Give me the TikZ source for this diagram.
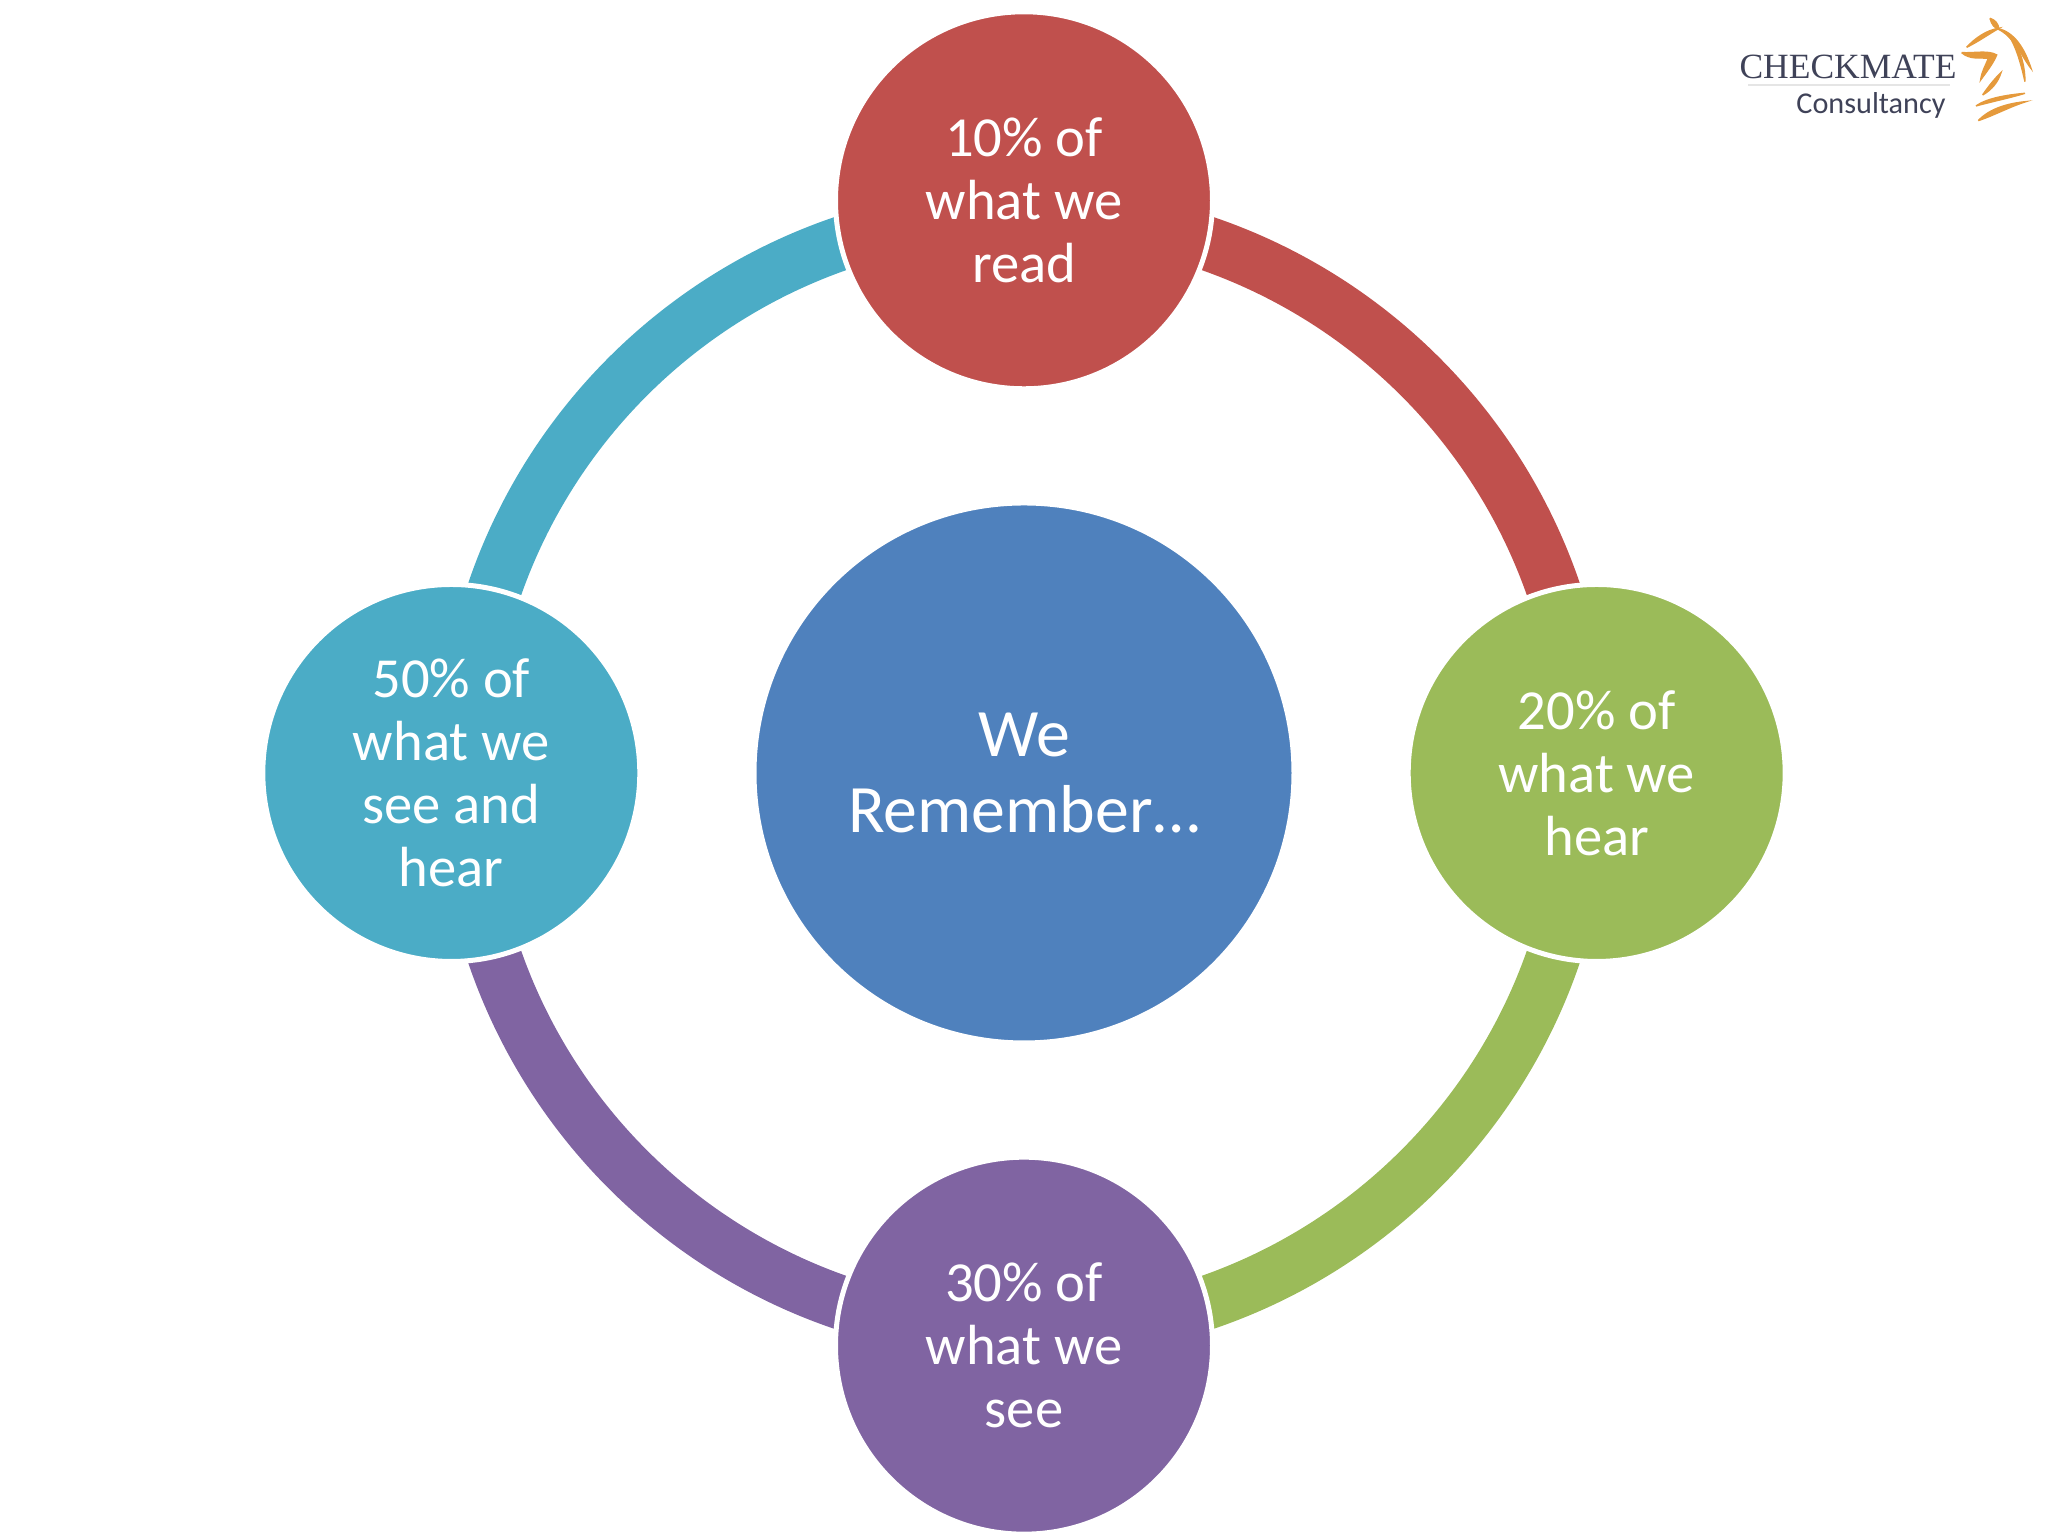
\documentclass[tikz,border=0pt]{standalone}
\usepackage{fontspec}
\setmainfont{Carlito}
\newfontfamily\logoserif{Liberation Serif}
\usepackage{xcolor}
\usetikzlibrary{positioning}
\usetikzlibrary{backgrounds}
\definecolor{readred}{HTML}{C0504D}
\definecolor{heargreen}{HTML}{9BBB59}
\definecolor{seepurple}{HTML}{8064A2}
\definecolor{bothaqua}{HTML}{4BACC6}
\definecolor{coreblue}{HTML}{4F81BD}
\definecolor{logoink}{HTML}{3F4258}
\definecolor{logohorse}{HTML}{E59A3C}
\tikzset{
	bubble/.style = {circle, draw = white, line width = 0.05cm, inner sep = 0pt, outer sep = 0pt, text = white, align = center},
	part/.style = {bubble, minimum size = 3.77cm, font = \fontsize{16.1}{17.9}\selectfont},
	core/.style = {bubble, minimum size = 5.40cm, font = \fontsize{19.3}{21.6}\selectfont},
	ringarc/.style = {line width = 0.54cm},
	horsestroke/.style = {fill = logohorse, draw = logohorse, line width = 0.4pt}
}

\begin{document}
\begin{tikzpicture}[node distance = 1.142cm]
		\useasboundingbox (0,0) rectangle (20.48,15.36);
		\node[core, fill = coreblue] (remember) at (10.24,7.63) {We\\Remember…};
		\node[part, fill = readred, above = of remember] (read) {10\% of\\what we\\read};
		\node[part, fill = heargreen, right = of remember] (hear) {20\% of\\what we\\hear};
		\node[part, fill = seepurple, below = of remember] (see) {30\% of\\what we\\see};
		\node[part, fill = bothaqua, left = of remember] (both) {50\% of\\what we\\see and\\hear};
		\coordinate (readring) at ([yshift = -0.127cm]read.center);
		\coordinate (hearring) at ([xshift = -0.127cm]hear.center);
		\coordinate (seering) at ([yshift = 0.127cm]see.center);
		\coordinate (bothring) at ([xshift = 0.127cm]both.center);
		\begin{scope}[on background layer]
			\draw[ringarc, readred] (readring) to[out = 0, in = 90] (hearring);
			\draw[ringarc, heargreen] (hearring) to[out = -90, in = 0] (seering);
			\draw[ringarc, seepurple] (seering) to[out = 180, in = -90] (bothring);
			\draw[ringarc, bothaqua] (bothring) to[out = 90, in = 180] (readring);
		\end{scope}
		% logo
		\node[text = logoink, font = \logoserif\fontsize{10.1}{11}\selectfont, inner sep = 0pt] (checkmate) at (18.48,14.69) {CHECKMATE};
		\node[text = logoink, font = \fontsize{8.6}{9}\selectfont, inner sep = 0pt] (consultancy) at (18.71,14.31) {Consultancy};
		\draw[black!10, line width = 0.3pt] (17.48,14.51) -- (19.5,14.51);
		\begin{scope}[shift = {(17,15.36)}, x = 1cm/300, y = -1cm/300]
			\path[horsestroke] (870,55) .. controls (885,60) and (895,70) .. (897,88) .. controls (885,85) and (875,75) .. (870,55);
			\path[horsestroke] (800,142) .. controls (825,115) and (860,90) .. (897,85) .. controls (870,100) and (835,125) .. (800,142);
			\path[horsestroke] (890,85) .. controls (945,95) and (975,150) .. (993,205) .. controls (965,170) and (945,110) .. (890,85);
			\path[horsestroke] (925,105) .. controls (955,130) and (975,190) .. (975,245) .. controls (965,200) and (950,140) .. (925,105);
			\path[horsestroke] (785,158) .. controls (825,160) and (865,150) .. (890,165) .. controls (880,190) and (860,215) .. (842,240) .. controls (845,215) and (860,190) .. (865,175) .. controls (840,172) and (810,180) .. (785,158);
			\path[horsestroke] (848,285) .. controls (865,260) and (885,235) .. (903,218) .. controls (895,245) and (875,270) .. (848,285);
			\path[horsestroke] (828,318) .. controls (860,295) and (920,285) .. (975,280) .. controls (925,295) and (875,305) .. (828,318);
			\path[horsestroke] (835,362) .. controls (870,325) and (925,310) .. (978,305) .. controls (930,320) and (885,345) .. (835,362);
		\end{scope}
	\end{tikzpicture}
\end{document}
